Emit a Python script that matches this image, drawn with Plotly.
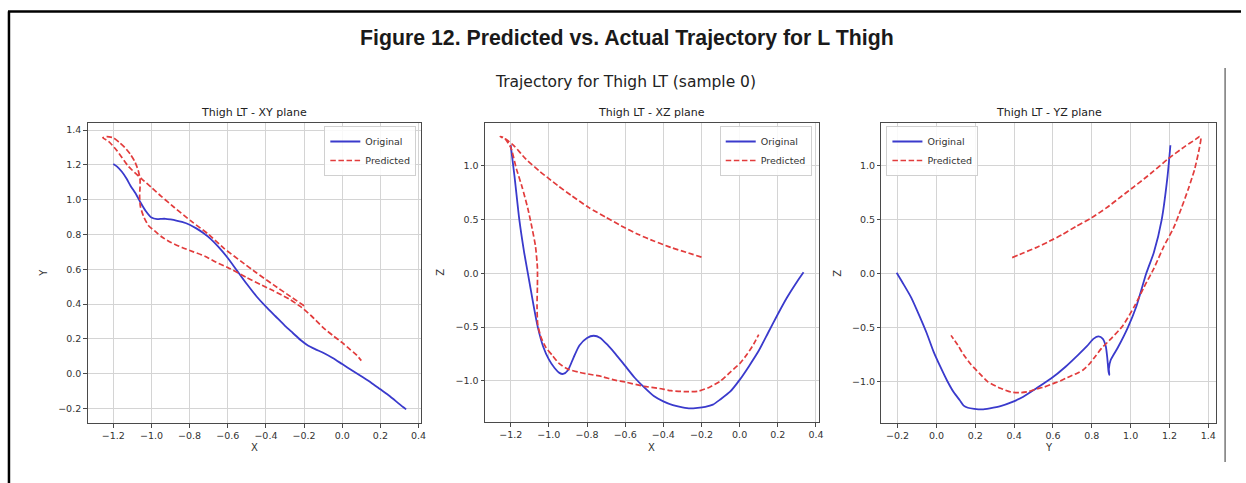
import plotly.graph_objects as go

# ---------------- data ----------------
# Original trajectory (3D samples; each panel is a planar projection)
orig_x = [-1.20, -1.18, -1.155, -1.13, -1.11, -1.08, -1.058, -1.03, -1.00, -0.97, -0.945, -0.925,
          -0.90, -0.87, -0.84, -0.80, -0.765, -0.73, -0.69, -0.65, -0.60, -0.55, -0.50, -0.45,
          -0.40, -0.35, -0.30, -0.26, -0.22, -0.18, -0.14, -0.10, -0.05, 0.00, 0.05, 0.10,
          0.15, 0.20, 0.25, 0.30, 0.335]
orig_y = [1.205, 1.19, 1.16, 1.12, 1.08, 1.03, 0.985, 0.935, 0.897, 0.888, 0.89, 0.89,
          0.886, 0.88, 0.872, 0.856, 0.835, 0.81, 0.775, 0.73, 0.665, 0.59, 0.515, 0.445,
          0.385, 0.33, 0.275, 0.235, 0.195, 0.162, 0.14, 0.12, 0.09, 0.055, 0.02, -0.015,
          -0.05, -0.09, -0.13, -0.175, -0.205]
orig_z = [1.19, 0.90, 0.50, 0.20, 0.00, -0.30, -0.50, -0.68, -0.80, -0.88, -0.925, -0.935,
          -0.90, -0.78, -0.67, -0.60, -0.58, -0.60, -0.67, -0.75, -0.86, -0.97, -1.06, -1.14,
          -1.19, -1.225, -1.245, -1.255, -1.25, -1.24, -1.22, -1.17, -1.10, -0.99, -0.86, -0.72,
          -0.55, -0.38, -0.22, -0.08, 0.01]

# Predicted trajectory
pred_x = [-0.20, -0.28, -0.36, -0.45, -0.53, -0.62, -0.70, -0.79, -0.88, -0.95, -1.00, -1.05,
          -1.12, -1.18, -1.225, -1.255, -1.235, -1.20, -1.17, -1.14, -1.11, -1.088, -1.07, -1.06,
          -1.06, -1.062, -1.058, -1.04, -1.015, -0.983, -0.945, -0.90, -0.84, -0.78, -0.72, -0.66,
          -0.60, -0.50, -0.42, -0.36, -0.28, -0.218, -0.16, -0.10, -0.05, 0.00, 0.04, 0.073, 0.10]
pred_y = [0.39, 0.45, 0.51, 0.58, 0.645, 0.72, 0.80, 0.875, 0.955, 1.02, 1.07, 1.118,
          1.19, 1.28, 1.335, 1.355, 1.362, 1.355, 1.33, 1.30, 1.26, 1.22, 1.17, 1.12,
          1.07, 1.02, 0.96, 0.90, 0.85, 0.82, 0.785, 0.755, 0.725, 0.70, 0.675, 0.64,
          0.61, 0.552, 0.508, 0.476, 0.43, 0.385, 0.33, 0.265, 0.22, 0.178, 0.14, 0.11, 0.075]
pred_z = [0.15, 0.195, 0.24, 0.30, 0.36, 0.44, 0.52, 0.61, 0.72, 0.81, 0.88, 0.95,
          1.06, 1.18, 1.245, 1.27, 1.26, 1.17, 0.97, 0.80, 0.60, 0.42, 0.25, 0.05,
          -0.12, -0.30, -0.48, -0.60, -0.69, -0.76, -0.84, -0.89, -0.92, -0.94, -0.96, -0.99,
          -1.01, -1.05, -1.07, -1.09, -1.10, -1.095, -1.06, -1.00, -0.92, -0.84, -0.75, -0.66, -0.57]

series_names = ["Original", "Predicted"]
panel_titles = ["Thigh LT - XY plane", "Thigh LT - XZ plane", "Thigh LT - YZ plane"]
axis_labels = [("X", "Y"), ("X", "Z"), ("Y", "Z")]
x_ticks_xy = [-1.2, -1.0, -0.8, -0.6, -0.4, -0.2, 0.0, 0.2, 0.4]
y_ticks_xy = [-0.2, 0.0, 0.2, 0.4, 0.6, 0.8, 1.0, 1.2, 1.4]
z_ticks = [-1.0, -0.5, 0.0, 0.5, 1.0]
y_ticks_as_x = [-0.2, 0.0, 0.2, 0.4, 0.6, 0.8, 1.0, 1.2, 1.4]

main_title = "Figure 12. Predicted vs. Actual Trajectory for L Thigh"
sup_title = "Trajectory for Thigh LT (sample 0)"

# ---------------- layout helpers ----------------
W, H = 1246, 483
def px(xp):
    return xp / W
def py(yp):
    return 1 - yp / H

BLUE = "#3a3acc"
RED = "#e23c3c"
DASH = "5.5px,2.6px"
FONT = "DejaVu Sans"

panels = [
    dict(x0=88, x1=423, y0=123, y1=423),
    dict(x0=487, x1=822, y0=123, y1=422),
    dict(x0=885, x1=1221, y0=123, y1=423),
]

projections = [
    (orig_x, orig_y, pred_x, pred_y),
    (orig_x, orig_z, pred_x, pred_z),
    (orig_y, orig_z, pred_y, pred_z),
]

def pad_range(vals_a, vals_b):
    lo = min(min(vals_a), min(vals_b))
    hi = max(max(vals_a), max(vals_b))
    m = (hi - lo) * 0.05
    return [lo - m, hi + m]

fig = go.Figure()
legend_names = ["legend", "legend2", "legend3"]
for i, (ox, oy, qx, qy) in enumerate(projections):
    sfx = "" if i == 0 else str(i + 1)
    fig.add_trace(go.Scatter(x=ox, y=oy, mode="lines", name=series_names[0],
                             line=dict(color=BLUE, width=1.8, shape="spline", smoothing=0.6),
                             xaxis="x" + sfx, yaxis="y" + sfx, legend=legend_names[i]))
    fig.add_trace(go.Scatter(x=qx, y=qy, mode="lines", name=series_names[1],
                             line=dict(color=RED, width=1.7, dash=DASH, shape="spline", smoothing=0.6),
                             xaxis="x" + sfx, yaxis="y" + sfx, legend=legend_names[i]))

tick_sets = [(x_ticks_xy, y_ticks_xy), (x_ticks_xy, z_ticks), (y_ticks_as_x, z_ticks)]
axis_common = dict(showline=True, linecolor="#4a4a4a", linewidth=1, mirror=True,
                   showgrid=True, gridcolor="#d4d4d4", gridwidth=1, zeroline=False,
                   ticks="outside", ticklen=3.5, tickcolor="#4a4a4a", tickwidth=1,
                   tickfont=dict(family=FONT, size=9.5, color="#333333"), tickformat=".1f")

layout = dict(width=W, height=H, margin=dict(l=0, r=0, t=0, b=0),
              paper_bgcolor="white", plot_bgcolor="white", showlegend=True)
for i, p in enumerate(panels):
    sfx = "" if i == 0 else str(i + 1)
    ox, oy, qx, qy = projections[i]
    xt, yt = tick_sets[i]
    layout["xaxis" + sfx] = dict(axis_common, domain=[px(p["x0"]), px(p["x1"])],
                                 anchor="y" + sfx, range=pad_range(ox, qx), tickvals=xt)
    layout["yaxis" + sfx] = dict(axis_common, domain=[py(p["y1"]), py(p["y0"])],
                                 anchor="x" + sfx, range=pad_range(oy, qy), tickvals=yt)

legend_common = dict(bgcolor="rgba(255,255,255,0.85)", bordercolor="#d0d0d0", borderwidth=1,
                     font=dict(family=FONT, size=9.5, color="#333333"),
                     tracegroupgap=0, itemwidth=30)
layout["legend"] = dict(legend_common, x=px(418), y=py(126), xanchor="right", yanchor="top")
layout["legend2"] = dict(legend_common, x=px(815), y=py(126), xanchor="right", yanchor="top")
layout["legend3"] = dict(legend_common, x=px(890), y=py(126), xanchor="left", yanchor="top")

annotations = []
annotations.append(dict(text="<b>" + main_title + "</b>", x=px(630), y=py(38), xref="paper", yref="paper",
                        showarrow=False, xanchor="center", yanchor="middle",
                        font=dict(family="Liberation Sans", size=21.3, color="#1a1a1a")))
annotations.append(dict(text=sup_title, x=px(628), y=py(82), xref="paper", yref="paper",
                        showarrow=False, xanchor="center", yanchor="middle",
                        font=dict(family=FONT, size=15.5, color="#222222")))
for i, p in enumerate(panels):
    cx = (p["x0"] + p["x1"]) / 2
    annotations.append(dict(text=panel_titles[i], x=px(cx), y=py(112), xref="paper", yref="paper",
                            showarrow=False, xanchor="center", yanchor="middle",
                            font=dict(family=FONT, size=11, color="#222222")))
    annotations.append(dict(text=axis_labels[i][0], x=px(cx), y=py(447), xref="paper", yref="paper",
                            showarrow=False, xanchor="center", yanchor="middle",
                            font=dict(family=FONT, size=10, color="#333333")))
    annotations.append(dict(text=axis_labels[i][1], x=px(p["x0"] - 45), y=py((p["y0"] + p["y1"]) / 2),
                            xref="paper", yref="paper", textangle=-90,
                            showarrow=False, xanchor="center", yanchor="middle",
                            font=dict(family=FONT, size=10, color="#333333")))
layout["annotations"] = annotations

layout["shapes"] = [
    dict(type="line", xref="paper", yref="paper", x0=px(8), x1=1.0, y0=py(11.5), y1=py(11.5),
         line=dict(color="black", width=2.5)),
    dict(type="line", xref="paper", yref="paper", x0=px(9), x1=px(9), y0=py(11.5), y1=0,
         line=dict(color="black", width=2.5)),
    dict(type="line", xref="paper", yref="paper", x0=px(1230), x1=px(1230), y0=py(68), y1=py(462),
         line=dict(color="#333333", width=1)),
]

fig.update_layout(**layout)
fig.write_html("out.html",
               config={"displayModeBar": False},
               post_script="document.body.style.margin='0';document.body.style.overflow='hidden';")
